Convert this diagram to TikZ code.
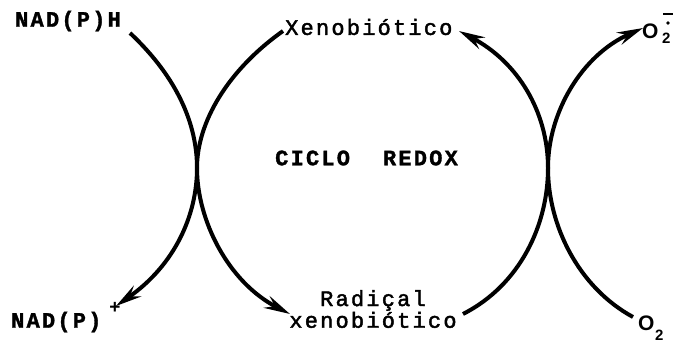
\documentclass[tikz,border=0pt]{standalone}
\usepackage{fontspec}
\setmainfont{Liberation Mono}[LetterSpace=10]
\newfontfamily\medf{Liberation Mono}[LetterSpace=10,FakeBold=2]
\newfontfamily\boldf{Liberation Mono Bold}[LetterSpace=10,FakeBold=1.5]
\newfontfamily\sansf{Liberation Sans}
\usetikzlibrary{arrows.meta}
\begin{document}
\begin{tikzpicture}[x=1pt,y=-1pt,
  lbl/.style={inner sep=0pt,font=\fontsize{22}{24}\selectfont\medf},
  blbl/.style={inner sep=0pt,font=\fontsize{22}{24}\selectfont\boldf},
  olbl/.style={inner sep=0pt,font=\fontsize{21}{23}\selectfont\sansf\bfseries},
  sub/.style={inner sep=0pt,font=\fontsize{15}{17}\selectfont\sansf\bfseries},
  curve/.style={line width=4pt},
  tip/.style={-{Stealth[length=26pt,width=13pt,inset=9pt]}}]
\useasboundingbox (0,0) rectangle (675,346);
% labels
\node[blbl,anchor=west] (nadph) at (15,21) {NAD(P)H};
\node[lbl,anchor=west] (xeno) at (285,27) {Xenobiótico};
\node[blbl,anchor=west] (ciclo) at (275,158) {CICLO\hspace{33pt}REDOX};
\node[blbl,anchor=west] (nadp) at (11,322) {NAD(P)};
\node[sub,anchor=center,font=\fontsize{19}{20}\selectfont\sansf\bfseries] (plus) at (115,308) {+};
\node[lbl,align=center,font=\fontsize{22}{17}\selectfont\medf] (rad) at (373,309) {Radiçal\\xenobiótico};
\node[olbl,anchor=west] (osup) at (642,31) {O};
\node[sub,anchor=north west] (two) at (662,33) {2};
\fill (668,23) circle (1.9pt);
\draw[line width=1.5pt] (663,14) -- (673,14);
\node[olbl,anchor=west] (osub) at (638,323) {O};
\node[sub,anchor=north west] (twob) at (655,330) {2};
% junctions and curve ends
\coordinate (J1) at (197,168);
\coordinate (J2) at (548,168);
\coordinate (a1) at (130,33);
\coordinate (a2) at (116,306);
\coordinate (b1) at (283,31);
\coordinate (b2) at (290,314);
\coordinate (c1) at (463,314);
\coordinate (c2) at (459,31);
\coordinate (d1) at (633,317);
\coordinate (d2) at (643,28);
% curves
\draw[curve,tip] (a1) .. controls (178,78) and (197,125) .. (J1)
  .. controls (197,215) and (175,265) .. (a2);
\draw[curve,tip] (b1) .. controls (228,70) and (197,122) .. (J1)
  .. controls (197,220) and (228,282) .. (b2);
\draw[curve,tip] (c1) .. controls (520,285) and (548,225) .. (J2)
  .. controls (548,112) and (518,62) .. (c2);
\draw[curve,tip] (d1) .. controls (578,287) and (548,225) .. (J2)
  .. controls (548,112) and (582,55) .. (d2);
\end{tikzpicture}
\end{document}
